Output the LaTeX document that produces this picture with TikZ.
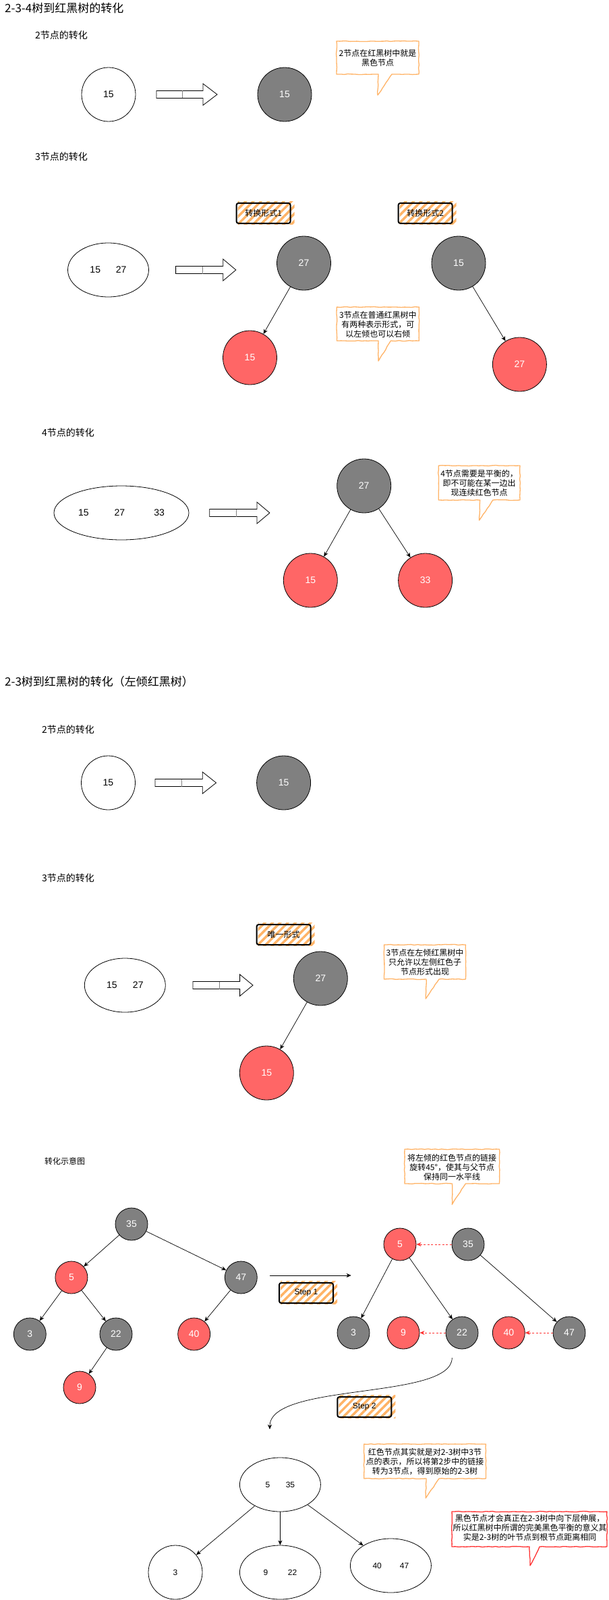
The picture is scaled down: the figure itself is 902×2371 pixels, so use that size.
\documentclass[tikz,border=0pt]{standalone}
\usepackage{fontspec}
\setmainfont{Liberation Sans}
\newfontfamily\cjk{Noto Sans CJK SC}
\usetikzlibrary{shapes.geometric,arrows.meta,patterns.meta,decorations.pathmorphing}
\definecolor{ngray}{HTML}{808080}
\definecolor{nred}{HTML}{FF6666}
\definecolor{corange}{HTML}{FFB366}
\definecolor{cred}{HTML}{FF3333}
\newcommand\flexarrow[4]{%
  \draw[line width=0.8pt, fill=white] (#1,#4-5.5) -- (#2,#4-5.5) -- (#2,#4-16) -- (#3,#4) -- (#2,#4+16) -- (#2,#4+5.5) -- (#1,#4+5.5) -- cycle;
  \draw[line width=0.4pt, black!50] ({(#1+#2)/2+4},{#4-5.5}) -- ({(#1+#2)/2+4},{#4+5.5});}
\newcommand\tagfill[2]{%
  \path[pattern={Lines[angle=45,distance=8pt,line width=3.5pt]}, pattern color=corange] ({#1-38},{#2-18}) rectangle ({#1+46},{#2+16});}
\begin{document}
\begin{tikzpicture}[x=1pt,y=-1pt,
  base/.style={ellipse, draw, line width=0.8pt, inner sep=0pt, font=\fontsize{14}{16}\selectfont},
  wn/.style={base, fill=white},
  gn/.style={base, fill=ngray, text=white},
  rn/.style={base, fill=nred, text=white},
  bigsz/.style={minimum width=80pt, minimum height=80pt},
  smsz/.style={minimum width=48pt, minimum height=48pt},
  edge/.style={-{Stealth[length=7pt,width=6pt,inset=2pt]}, line width=0.7pt},
  redge/.style={-{Stealth[length=7pt,width=6pt,inset=2pt]}, draw=cred, line width=0.9pt, dash pattern=on 3pt off 2.5pt},
  tagbox/.style={draw, line width=2pt, rounded corners=3pt, minimum width=80pt, minimum height=30pt, inner sep=0pt, font=\cjk\fontsize{12}{14}\selectfont},
  callout/.style={draw=corange, fill=white, line width=1.3pt, line join=round, decorate, decoration={random steps, segment length=5pt, amplitude=0.5pt}},
  redcallout/.style={callout, draw=cred},
  ctext/.style={align=center, inner sep=0pt, font=\cjk\fontsize{12}{14}\selectfont},
  title/.style={anchor=west, inner sep=0pt, font=\cjk\fontsize{17}{20}\selectfont},
  seclabel/.style={anchor=west, inner sep=0pt, font=\cjk\fontsize{14}{16}\selectfont}
]
\fill[white] (0,0) rectangle (902,2371);
\useasboundingbox (0,0) rectangle (902,2371);

% ---------- Section 1 ----------
\node[title] (t1) at (7,12) {2-3-4树到红黑树的转化};
\node[seclabel] (l1) at (52,52) {2节点的转化};
\node[wn,bigsz] (a15) at (161,140) {15};
\flexarrow{232}{301}{322}{140}
\node[gn,bigsz] (b15) at (422,140) {15};
\draw[callout] (499,61) -- (621,61) -- (621,110) -- (581,110) -- (560,141) -- (561,110) -- (499,110) -- cycle;
\node[ctext] (c1) at (560,85.5) {2节点在红黑树中就是\\黑色节点};

% ---------- Section 2 ----------
\node[seclabel] (l2) at (52,232) {3节点的转化};
\node[wn,minimum width=120pt,minimum height=80pt] (a1527) at (160.5,400) {15\hspace{22.9pt}27};
\flexarrow{260.6}{330.8}{349.8}{400}
\tagfill{390.6}{316}
\node[tagbox] (tg1) at (390.6,316) {转换形式1};
\tagfill{630.6}{316}
\node[tagbox] (tg2) at (630.6,316) {转换形式2};
\node[gn,bigsz] (s2g27) at (450.5,390) {27};
\node[rn,bigsz] (s2r15) at (370.5,530) {15};
\node[gn,bigsz] (s2g15) at (680,390) {15};
\node[rn,bigsz] (s2r27) at (770.4,540) {27};
\draw[edge] (s2g27) -- (s2r15);
\draw[edge] (s2g15) -- (s2r27);
\draw[callout] (499.4,455) -- (621.4,455) -- (621.4,505) -- (579.4,505) -- (561,535) -- (561,505) -- (499.4,505) -- cycle;
\node[ctext] (c2) at (560.4,481) {3节点在普通红黑树中\\有两种表示形式，可\\以左倾也可以右倾};

% ---------- Section 3 ----------
\node[seclabel] (l3) at (62,641) {4节点的转化};
\node[wn,minimum width=200pt,minimum height=80pt] (a4) at (180,760) {15\hspace{37.9pt}27\hspace{43.1pt}33};
\flexarrow{310.7}{380.9}{399.9}{760}
\node[gn,bigsz] (s3g27) at (539.7,720) {27};
\node[rn,bigsz] (s3r15) at (460.3,860) {15};
\node[rn,bigsz] (s3r33) at (630.6,860) {33};
\draw[edge] (s3g27) -- (s3r15);
\draw[edge] (s3g27) -- (s3r33);
\draw[callout] (650.2,690) -- (771,690) -- (771,741) -- (730.7,741) -- (710.6,771) -- (711.7,741) -- (650.2,741) -- cycle;
\node[ctext] (c3) at (710.6,716) {4节点需要是平衡的，\\即不可能在某一边出\\现连续红色节点};

% ---------- Section 4 ----------
\node[title] (t2) at (7,1010) {2-3树到红黑树的转化（左倾红黑树）};
\node[seclabel] (l4) at (62,1081) {2节点的转化};
\node[wn,bigsz] (d15) at (160.5,1160) {15};
\flexarrow{230}{300.3}{320.5}{1160}
\node[gn,bigsz] (e15) at (420.6,1160) {15};

% ---------- Section 5 ----------
\node[seclabel] (l5) at (62,1301) {3节点的转化};
\node[wn,minimum width=120pt,minimum height=80pt] (f1527) at (185.3,1460) {15\hspace{23.4pt}27};
\flexarrow{286}{355.6}{375}{1460}
\tagfill{420.6}{1385}
\node[tagbox] (tg3) at (420.6,1385) {唯一形式};
\node[gn,bigsz] (s5g27) at (475.3,1450) {27};
\node[rn,bigsz] (s5r15) at (395.3,1590) {15};
\draw[edge] (s5g27) -- (s5r15);
\draw[callout] (569.6,1400) -- (690.4,1400) -- (690.4,1451) -- (651,1451) -- (631.2,1480) -- (632,1451) -- (569.6,1451) -- cycle;
\node[ctext] (c4) at (630,1425.5) {3节点在左倾红黑树中\\只允许以左侧红色子\\节点形式出现};

% ---------- Section 6 ----------
\node[anchor=west, inner sep=0pt, font=\cjk\fontsize{12}{14}\selectfont] (l6) at (66,1721) {转化示意图};
\node[gn,smsz] (L35) at (195,1814) {35};
\node[rn,smsz] (L5) at (105.9,1893) {5};
\node[gn,smsz] (L47) at (357.3,1893) {47};
\node[gn,smsz] (L3) at (44.3,1977) {3};
\node[gn,smsz] (L22) at (172,1977) {22};
\node[rn,smsz] (L40) at (287.7,1977) {40};
\node[rn,smsz] (L9) at (118,2056) {9};
\draw[edge] (L35) -- (L5);
\draw[edge] (L35) -- (L47);
\draw[edge] (L5) -- (L3);
\draw[edge] (L5) -- (L22);
\draw[edge] (L47) -- (L40);
\draw[edge] (L22) -- (L9);

\coordinate (s1a) at (400,1890);
\coordinate (s1b) at (520.7,1890);
\draw[edge] (s1a) -- (s1b);
\tagfill{454}{1916}
\node[tagbox, font=\fontsize{12}{14}\selectfont] (tg4) at (454,1916) {Step 1};

\node[rn,smsz] (R5) at (593,1844) {5};
\node[gn,smsz] (R35) at (694,1844) {35};
\node[gn,smsz] (R3) at (524,1975) {3};
\node[rn,smsz] (R9) at (598,1975) {9};
\node[gn,smsz] (R22) at (685,1975) {22};
\node[rn,smsz] (R40) at (754.3,1975) {40};
\node[gn,smsz] (R47) at (844,1975) {47};
\draw[edge] (R5) -- (R3);
\draw[edge] (R5) -- (R22);
\draw[edge] (R35) -- (R47);
\draw[redge] (R35) -- (R5);
\draw[redge] (R22) -- (R9);
\draw[redge] (R47) -- (R40);
\draw[callout] (600,1703) -- (740.5,1703) -- (740.5,1754) -- (690.4,1754) -- (670.3,1785) -- (670.5,1754) -- (600,1754) -- cycle;
\node[ctext] (c5) at (670.2,1729.5) {将左倾的红色节点的链接\\旋转45°，使其与父节点\\保持同一水平线};

% ---------- Section 7 ----------
\coordinate (s2a) at (670.3,2012);
\coordinate (s2b) at (400,2118);
\draw[edge] (s2a) .. controls (670.3,2075) and (400,2048) .. (s2b);
\tagfill{540.3}{2085}
\node[tagbox, font=\fontsize{12}{14}\selectfont] (tg5) at (540.3,2085) {Step 2};

\node[wn,minimum width=120pt,minimum height=80pt,font=\fontsize{12}{14}\selectfont] (T535) at (415.4,2200) {5\hspace{23.4pt}35};
\node[wn,bigsz,font=\fontsize{12}{14}\selectfont] (T3) at (260,2330) {3};
\node[wn,minimum width=120pt,minimum height=80pt,font=\fontsize{12}{14}\selectfont] (T922) at (415.4,2330) {9\hspace{29.7pt}22};
\node[wn,minimum width=120pt,minimum height=80pt,font=\fontsize{12}{14}\selectfont] (T4047) at (579.4,2320) {40\hspace{27pt}47};
\draw[edge] (T535) -- (T3);
\draw[edge] (T535) -- (T922);
\draw[edge] (T535) -- (T4047);
\draw[callout] (539.7,2140) -- (720.4,2140) -- (720.4,2191) -- (651,2191) -- (631.2,2220) -- (632,2191) -- (539.7,2191) -- cycle;
\node[ctext] (c6) at (630,2166) {红色节点其实就是对2-3树中3节\\点的表示，所以将第2步中的链接\\转为3节点，得到原始的2-3树};
\draw[redcallout] (670,2240) -- (900,2240) -- (900,2292) -- (800,2292) -- (786,2320) -- (785,2292) -- (670,2292) -- cycle;
\node[ctext] (c7) at (785.5,2264) {黑色节点才会真正在2-3树中向下层伸展，\\所以红黑树中所谓的完美黑色平衡的意义其\\实是2-3树的叶节点到根节点距离相同};
\end{tikzpicture}
\end{document}
